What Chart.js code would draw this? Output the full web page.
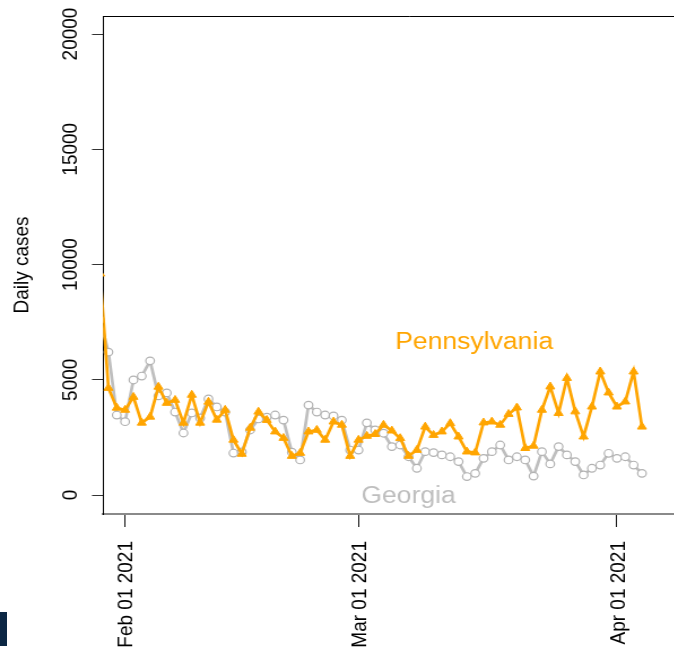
<!DOCTYPE html>
<html>
<head>
<meta charset="utf-8">
<script src="https://cdn.jsdelivr.net/npm/chart.js@4.4.1/dist/chart.umd.min.js"></script>
<style>
  html, body { margin: 0; padding: 0; background: #fff; overflow: hidden; width: 674px; height: 649px; }
  #wrap { position: absolute; left: 0; top: 0; width: 640px; height: 649px; transform: scaleX(1.13); transform-origin: 0 0; }
  #mark { position: absolute; left: 0; top: 612px; width: 7px; height: 34px; background: #0c2744; }
</style>
</head>
<body>
<div id="wrap"><canvas id="c" width="640" height="649"></canvas></div>
<div id="mark"></div>
<script>
// Daily reported cases, late January to early April 2021
const dates = [
  '2021-01-29','2021-01-30','2021-01-31',
  '2021-02-01','2021-02-02','2021-02-03','2021-02-04','2021-02-05','2021-02-06','2021-02-07',
  '2021-02-08','2021-02-09','2021-02-10','2021-02-11','2021-02-12','2021-02-13','2021-02-14',
  '2021-02-15','2021-02-16','2021-02-17','2021-02-18','2021-02-19','2021-02-20','2021-02-21',
  '2021-02-22','2021-02-23','2021-02-24','2021-02-25','2021-02-26','2021-02-27','2021-02-28',
  '2021-03-01','2021-03-02','2021-03-03','2021-03-04','2021-03-05','2021-03-06','2021-03-07',
  '2021-03-08','2021-03-09','2021-03-10','2021-03-11','2021-03-12','2021-03-13','2021-03-14',
  '2021-03-15','2021-03-16','2021-03-17','2021-03-18','2021-03-19','2021-03-20','2021-03-21',
  '2021-03-22','2021-03-23','2021-03-24','2021-03-25','2021-03-26','2021-03-27','2021-03-28',
  '2021-03-29','2021-03-30','2021-03-31',
  '2021-04-01','2021-04-02','2021-04-03','2021-04-04'
];

const pennsylvania = [
  9600, 4640, 3780,
  3690, 4250, 3130, 3390, 4690, 3990, 4120,
  3130, 4340, 3130, 4040, 3260, 3690, 2390,
  1780, 2910, 3610, 3250, 2750, 2470, 1690,
  1820, 2750, 2820, 2390, 3180, 3040, 1690,
  2390, 2560, 2640, 3040, 2790, 2460, 1690,
  1950, 2960, 2600, 2750, 3110, 2530, 1880,
  1840, 3140, 3180, 3040, 3510, 3790, 2030,
  2130, 3690, 4700, 3550, 5070, 3620, 2530,
  3830, 5350, 4440,
  3830, 4050, 5350, 2960
];

const georgia = [
  7600, 6200, 3470,
  3180, 4990, 5160, 5820, 4300, 4430, 3600,
  2690, 3560, 3340, 4170, 3820, 3600, 1820,
  1870, 2820, 3300, 3380, 3470, 3250, 1860,
  1520, 3900, 3600, 3470, 3430, 3250, 1950,
  1950, 3130, 2820, 2680, 2100, 2170, 1660,
  1160, 1880, 1840, 1740, 1660, 1450, 800,
  940, 1590, 1880, 2170, 1520, 1660, 1520,
  820, 1880, 1350, 2100, 1740, 1450, 870,
  1160, 1300, 1810,
  1590, 1660, 1300, 940
];

const tickDates  = ['2021-02-01', '2021-03-01', '2021-04-01'];
const tickLabels = ['Feb 01 2021', 'Mar 01 2021', 'Apr 01 2021'];
const yTicks     = [0, 5000, 10000, 15000, 20000];
const seriesNames = ['Pennsylvania', 'Georgia'];
const yTitle = 'Daily cases';

// x is measured in days from 1 Feb 2021
const DAY = 86400000;
const ORIGIN = Date.UTC(2021, 1, 1);
const dayOf = s => (Date.parse(s + 'T00:00:00Z') - ORIGIN) / DAY;

const SX = 1.13;               // horizontal stretch applied to the canvas wrapper
const FONT = '"Liberation Sans", Arial, Helvetica, sans-serif';
const ORANGE = '#FFA500';
const GREY = '#BEBEBE';

const pa = dates.map((d, i) => ({ x: dayOf(d), y: pennsylvania[i] }));
const ga = dates.map((d, i) => ({ x: dayOf(d), y: georgia[i] }));

const textLayer = {
  id: 'textLayer',
  afterDraw(chart) {
    const { ctx, chartArea, scales: { x, y } } = chart;
    ctx.save();

    // top edge of the plot box
    ctx.strokeStyle = '#000';
    ctx.lineWidth = 1;
    ctx.beginPath();
    ctx.moveTo(chartArea.left, chartArea.top + 0.5);
    ctx.lineTo(chartArea.right, chartArea.top + 0.5);
    ctx.stroke();

    ctx.fillStyle = '#000';
    ctx.font = '19px ' + FONT;

    // y tick labels, written upward
    yTicks.forEach(v => {
      ctx.save();
      ctx.translate(77 / SX, y.getPixelForValue(v));
      ctx.rotate(-Math.PI / 2);
      ctx.textAlign = 'center';
      ctx.textBaseline = 'alphabetic';
      ctx.fillText(String(v), 0, 0);
      ctx.restore();
    });

    // x tick labels, written upward below the axis
    tickDates.forEach((d, i) => {
      ctx.save();
      ctx.translate(x.getPixelForValue(dayOf(d)) + 7.5 / SX, 541);
      ctx.rotate(-Math.PI / 2);
      ctx.textAlign = 'right';
      ctx.textBaseline = 'alphabetic';
      ctx.fillText(tickLabels[i], 0, 0);
      ctx.restore();
    });

    // y axis title
    ctx.save();
    ctx.translate(28 / SX, 265);
    ctx.rotate(-Math.PI / 2);
    ctx.textAlign = 'center';
    ctx.textBaseline = 'alphabetic';
    ctx.fillText(yTitle, 0, 0);
    ctx.restore();

    // series names placed in data space
    ctx.font = '23.5px ' + FONT;
    ctx.textAlign = 'center';
    ctx.textBaseline = 'alphabetic';
    ctx.fillStyle = ORANGE;
    ctx.fillText(seriesNames[0], x.getPixelForValue(41.87), y.getPixelForValue(6340));
    ctx.fillStyle = GREY;
    ctx.fillText(seriesNames[1], x.getPixelForValue(34.0), y.getPixelForValue(-330));

    ctx.restore();
  }
};

new Chart(document.getElementById('c'), {
  type: 'line',
  data: {
    datasets: [
      {
        label: seriesNames[0],
        data: pa,
        borderColor: ORANGE,
        borderWidth: 2.7,
        pointStyle: 'triangle',
        pointRadius: 4.6,
        pointBackgroundColor: ORANGE,
        pointBorderColor: ORANGE,
        pointBorderWidth: 1,
        clip: 0,
        order: 0
      },
      {
        label: seriesNames[1],
        data: ga,
        borderColor: GREY,
        borderWidth: 2.7,
        pointStyle: 'circle',
        pointRadius: 3.8,
        pointBackgroundColor: '#ffffff',
        pointBorderColor: '#b2b2b2',
        pointBorderWidth: 1.2,
        clip: 0,
        order: 1
      }
    ]
  },
  options: {
    responsive: false,
    animation: false,
    devicePixelRatio: 1,
    layout: { padding: { top: 16, right: 0, left: 0, bottom: 0 } },
    elements: { line: { tension: 0 } },
    plugins: { legend: { display: false }, tooltip: { enabled: false } },
    scales: {
      x: {
        type: 'linear',
        min: -2.65,
        max: 70.99,
        afterBuildTicks: s => { s.ticks = tickDates.map(d => ({ value: dayOf(d) })); },
        afterFit: s => { s.height = 135; },
        ticks: { display: false },
        grid: { drawOnChartArea: false, drawTicks: true, tickLength: 13, color: '#111', lineWidth: 1 },
        border: { display: true, color: '#8a8a8a', width: 2 }
      },
      y: {
        type: 'linear',
        min: -824,
        max: 20781,
        afterBuildTicks: s => { s.ticks = yTicks.map(v => ({ value: v })); },
        afterFit: s => { s.width = 103 / SX; },
        ticks: { display: false },
        grid: { drawOnChartArea: false, drawTicks: true, tickLength: 11 / SX, color: '#333', lineWidth: 1 },
        border: { display: true, color: '#000', width: 1 }
      }
    }
  },
  plugins: [textLayer]
});
</script>
</body>
</html>
